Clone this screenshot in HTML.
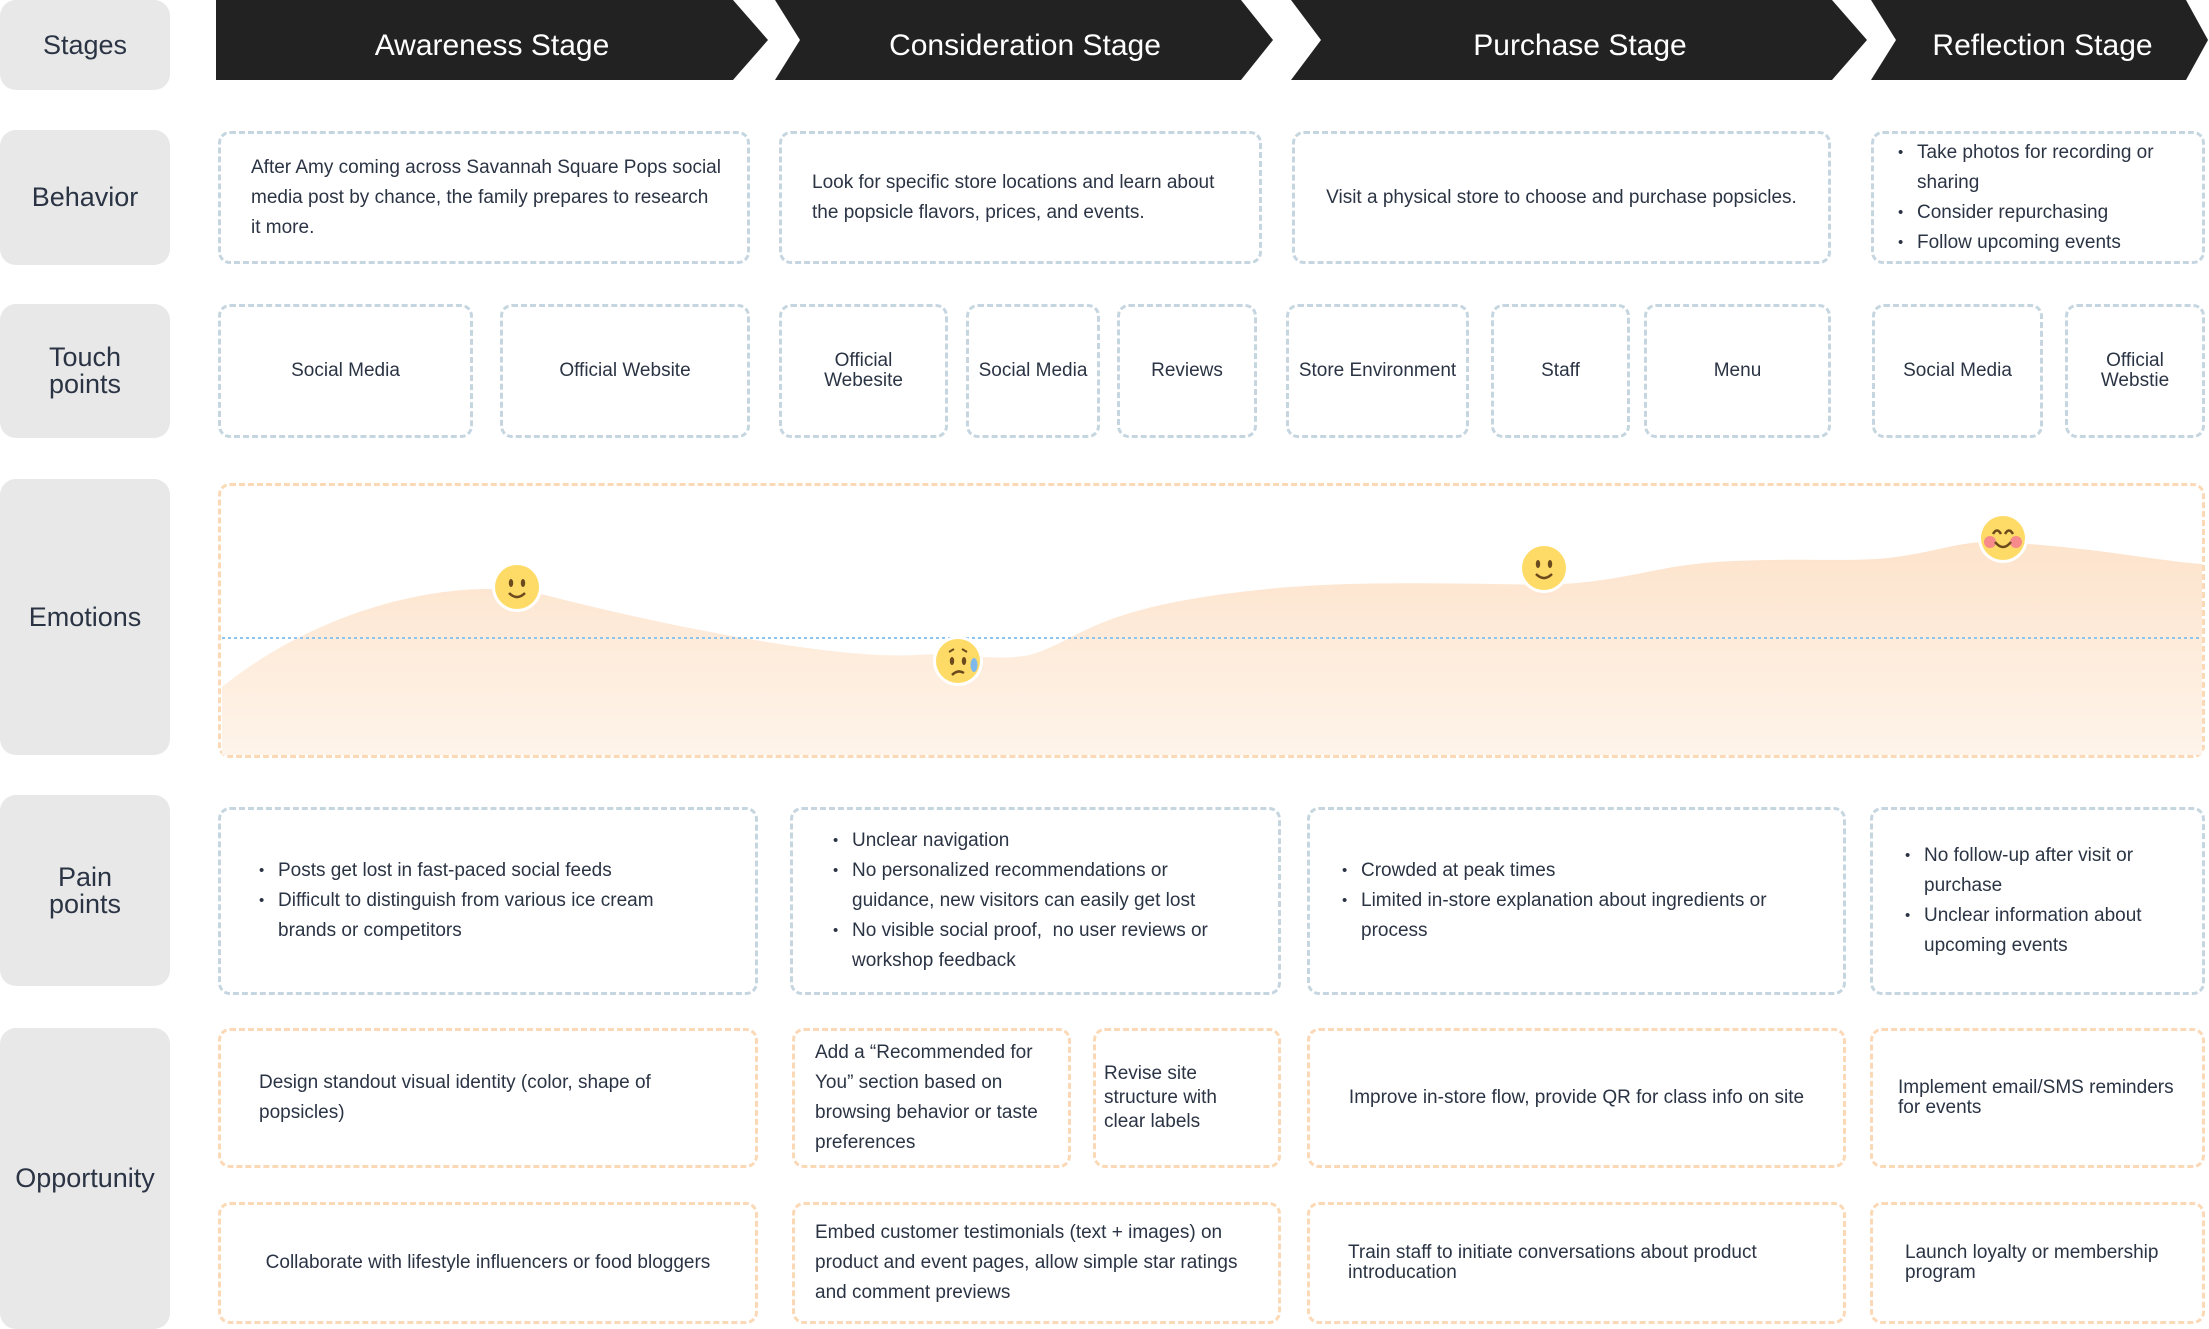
<!DOCTYPE html>
<html><head><meta charset="utf-8"><style>
*{margin:0;padding:0;box-sizing:border-box}
body{width:2209px;height:1329px;background:#fff;position:relative;overflow:hidden;font-family:"Liberation Sans",sans-serif;color:#2b3444}
.lab{position:absolute;left:0;width:170px;background:#e8e8e8;border-radius:16px;display:flex;align-items:center;justify-content:center;text-align:center;font-size:27px;line-height:27px;color:#2b3444}
.b{position:absolute;border:3px dashed #c6d6e0;border-radius:12px;display:flex;align-items:center;font-size:19px;line-height:30px}
.o{border-color:#fcd9b6}
.c{justify-content:center;text-align:center;line-height:20px}
.b ul{list-style:none}
.b li{position:relative;padding-left:19px}
.b li:before{content:"•";position:absolute;left:0;font-size:15px}
.st{position:absolute;top:6px;height:80px;color:#fff;font-size:30px;display:flex;align-items:center;justify-content:center}
</style></head><body>
<svg width="2209" height="80" style="position:absolute;left:0;top:0">
<polygon points="216,0 733,0 768,40 733,80 216,80" fill="#222"/>
<polygon points="775,0 1241,0 1273,40 1241,80 775,80 800,40" fill="#222"/>
<polygon points="1291,0 1832,0 1867,40 1832,80 1291,80 1321,40" fill="#222"/>
<polygon points="1871,0 2186,0 2208,40 2186,80 1871,80 1896,40" fill="#222"/>
</svg>
<div class="st" style="left:216px;width:552px">Awareness Stage</div>
<div class="st" style="left:790px;width:470px">Consideration Stage</div>
<div class="st" style="left:1310px;width:540px">Purchase Stage</div>
<div class="st" style="left:1890px;width:305px">Reflection Stage</div>

<div class="lab" style="top:0;height:90px">Stages</div>
<div class="lab" style="top:130px;height:135px">Behavior</div>
<div class="lab" style="top:304px;height:134px">Touch<br>points</div>
<div class="lab" style="top:479px;height:276px">Emotions</div>
<div class="lab" style="top:795px;height:191px">Pain<br>points</div>
<div class="lab" style="top:1028px;height:301px">Opportunity</div>

<div class="b" style="left:218px;top:131px;width:532px;height:133px;padding-left:30px;padding-right:24px">After Amy coming across Savannah Square Pops social media post by chance, the family prepares to research it more.</div>
<div class="b" style="left:779px;top:131px;width:483px;height:133px;padding-left:30px;padding-right:20px">Look for specific store locations and learn about the popsicle flavors, prices, and events.</div>
<div class="b" style="left:1292px;top:131px;width:539px;height:133px;justify-content:center">Visit a physical store to choose and purchase popsicles.</div>
<div class="b" style="left:1871px;top:131px;width:334px;height:133px;padding-left:24px"><ul><li>Take photos for recording or sharing</li><li>Consider repurchasing</li><li>Follow upcoming events</li></ul></div>

<div class="b c" style="left:218px;top:304px;width:255px;height:134px">Social Media</div>
<div class="b c" style="left:500px;top:304px;width:250px;height:134px">Official Website</div>
<div class="b c" style="left:779px;top:304px;width:169px;height:134px">Official<br>Webesite</div>
<div class="b c" style="left:966px;top:304px;width:134px;height:134px">Social Media</div>
<div class="b c" style="left:1117px;top:304px;width:140px;height:134px">Reviews</div>
<div class="b c" style="left:1286px;top:304px;width:183px;height:134px">Store Environment</div>
<div class="b c" style="left:1491px;top:304px;width:139px;height:134px">Staff</div>
<div class="b c" style="left:1644px;top:304px;width:187px;height:134px">Menu</div>
<div class="b c" style="left:1872px;top:304px;width:171px;height:134px">Social Media</div>
<div class="b c" style="left:2065px;top:304px;width:140px;height:134px">Official<br>Webstie</div>

<div class="b o" style="left:218px;top:483px;width:1987px;height:275px"></div>
<svg width="2209" height="1329" style="position:absolute;left:0;top:0">
<defs><linearGradient id="g" x1="0" y1="0" x2="0" y2="1"><stop offset="0" stop-color="#fde3cc"/><stop offset="1" stop-color="#fef4ea"/></linearGradient>
<g id="face"><circle r="25" fill="#fff"/><circle r="22" fill="#fedb66"/></g></defs>
<path d="M222,687 C330,600 470,575 549,596 C650,622 830,660 916,655 C960,652 990,662 1030,655 C1080,640 1090,610 1240,592 C1320,582 1400,582 1549,585 C1640,580 1650,565 1733,561 C1800,558 1850,562 1888,558 C1940,552 1960,540 2000,542 C2100,548 2150,560 2202,564 L2202,755 L222,755 Z" fill="url(#g)"/>
<line x1="222" y1="638" x2="2202" y2="638" stroke="#8ec5f0" stroke-width="2" stroke-dasharray="3,3"/>
<g transform="translate(517,587)"><use href="#face"/><ellipse cx="-6" cy="-4" rx="2.2" ry="4" fill="#6b4a1e"/><ellipse cx="6" cy="-4" rx="2.2" ry="4" fill="#6b4a1e"/><path d="M-8,6 Q0,14 8,6" stroke="#6b4a1e" stroke-width="2.5" fill="none"/></g>
<g transform="translate(958,661)"><use href="#face"/><ellipse cx="-6" cy="0" rx="2.2" ry="4" fill="#6b4a1e"/><ellipse cx="6" cy="0" rx="2.2" ry="4" fill="#6b4a1e"/><path d="M-9,-9 L-4,-12 M9,-9 L4,-12" stroke="#6b4a1e" stroke-width="2"/><path d="M-6,14 Q0,8 6,12" stroke="#6b4a1e" stroke-width="2.5" fill="none"/><ellipse cx="16" cy="4" rx="3.5" ry="7" fill="#7fb8ea"/></g>
<g transform="translate(1544,568)"><use href="#face"/><ellipse cx="-6" cy="-4" rx="2.2" ry="4" fill="#6b4a1e"/><ellipse cx="6" cy="-4" rx="2.2" ry="4" fill="#6b4a1e"/><path d="M-8,6 Q0,14 8,6" stroke="#6b4a1e" stroke-width="2.5" fill="none"/></g>
<g transform="translate(2003,538)"><use href="#face"/><circle cx="-13" cy="4" r="6" fill="#f78b8b"/><circle cx="13" cy="4" r="6" fill="#f78b8b"/><path d="M-10,-4 Q-6,-11 -2,-4 M2,-4 Q6,-11 10,-4" stroke="#6b4a1e" stroke-width="2.5" fill="none"/><path d="M-8,4 Q0,14 8,4" stroke="#6b4a1e" stroke-width="2.5" fill="none"/></g>
</svg>

<div class="b" style="left:218px;top:807px;width:540px;height:188px;padding-left:38px;padding-right:40px"><ul><li>Posts get lost in fast-paced social feeds</li><li>Difficult to distinguish from various ice cream brands or competitors</li></ul></div>
<div class="b" style="left:790px;top:807px;width:491px;height:188px;padding-left:40px;padding-right:40px"><ul><li>Unclear navigation</li><li>No personalized recommendations or guidance, new visitors can easily get lost</li><li>No visible social proof,&nbsp; no user reviews or workshop feedback</li></ul></div>
<div class="b" style="left:1307px;top:807px;width:539px;height:188px;padding-left:32px;padding-right:40px"><ul><li>Crowded at peak times</li><li>Limited in-store explanation about ingredients or process</li></ul></div>
<div class="b" style="left:1870px;top:807px;width:335px;height:188px;padding-left:32px;padding-right:10px"><ul><li>No follow-up after visit or purchase</li><li>Unclear information about upcoming events</li></ul></div>

<div class="b o" style="left:218px;top:1028px;width:540px;height:140px;padding-left:38px;padding-right:30px">Design standout visual identity (color, shape of popsicles)</div>
<div class="b o" style="left:792px;top:1028px;width:279px;height:140px;padding-left:20px;padding-right:10px">Add a “Recommended for You” section based on browsing behavior or taste preferences</div>
<div class="b o" style="left:1093px;top:1028px;width:188px;height:140px;padding-left:8px;padding-right:20px;line-height:24px">Revise site structure with clear labels</div>
<div class="b o" style="left:1307px;top:1028px;width:539px;height:140px;justify-content:center">Improve in-store flow, provide QR for class info on site</div>
<div class="b o" style="left:1870px;top:1028px;width:335px;height:140px;padding-left:25px;padding-right:10px;line-height:20px">Implement email/SMS reminders for events</div>

<div class="b o" style="left:218px;top:1202px;width:540px;height:122px;justify-content:center">Collaborate with lifestyle influencers or food bloggers</div>
<div class="b o" style="left:792px;top:1202px;width:489px;height:122px;padding-left:20px;padding-right:15px">Embed customer testimonials (text + images) on product and event pages, allow simple star ratings and comment previews</div>
<div class="b o" style="left:1307px;top:1202px;width:539px;height:122px;padding-left:38px;line-height:20px">Train staff to initiate conversations about product introducation</div>
<div class="b o" style="left:1870px;top:1202px;width:335px;height:122px;padding-left:32px;line-height:20px">Launch loyalty or membership program</div>
</body></html>
